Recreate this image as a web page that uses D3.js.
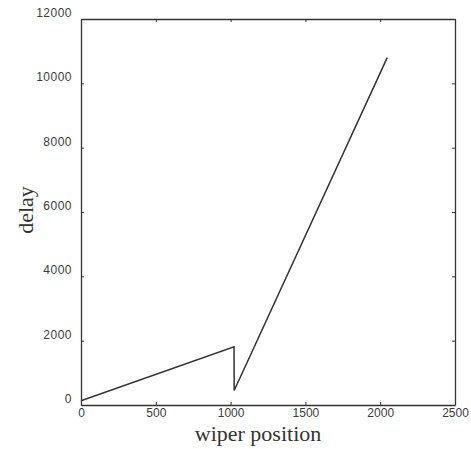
<!DOCTYPE html>
<html>
<head>
    <script src="https://cdnjs.cloudflare.com/ajax/libs/d3/7.8.5/d3.min.js"></script>
    <style>
        body { margin: 0; background: #fff; }
        .tick text {
            font-family: Arial, "Liberation Sans", sans-serif;
            font-size: 12px;
            fill: #3c3c3c;
        }
        .axis-title {
            font-family: "Liberation Serif", "Times New Roman", serif;
            font-size: 22px;
            fill: #333;
        }
    </style>
</head>
<body>
    <div id="chart"></div>
    <script>
        const width = 471, height = 449;
        const margin = { top: 19, right: 16, bottom: 44, left: 81 };

        // wiper position vs delay
        const wiperPos = [0, 1023, 1024, 2047];
        const delay = [130, 1810, 450, 10800];

        const xTicks = [0, 500, 1000, 1500, 2000, 2500];
        const yTicks = [0, 2000, 4000, 6000, 8000, 10000, 12000];

        const svg = d3.select("#chart").append("svg")
            .attr("width", width).attr("height", height);

        const x = d3.scaleLinear().domain([0, 2500]).range([margin.left, width - margin.right]);
        const y = d3.scaleLinear().domain([0, 12000]).range([height - margin.bottom, margin.top]);

        const ink = "#333";
        const fmt = d3.format("d");

        // axes, ticks pointing inward, mirrored on top and right
        const gx = svg.append("g")
            .attr("transform", `translate(0,${y(0)})`)
            .call(d3.axisBottom(x).tickValues(xTicks).tickFormat(fmt).tickSizeInner(-3).tickSizeOuter(0).tickPadding(3));
        svg.append("g")
            .attr("transform", `translate(0,${y(12000)})`)
            .call(d3.axisTop(x).tickValues(xTicks).tickSizeInner(-3).tickSizeOuter(0).tickFormat(""));
        const gy = svg.append("g")
            .attr("transform", `translate(${x(0)},0)`)
            .call(d3.axisLeft(y).tickValues(yTicks).tickFormat(fmt).tickSizeInner(-3).tickSizeOuter(0).tickPadding(9));
        svg.append("g")
            .attr("transform", `translate(${x(2500)},0)`)
            .call(d3.axisRight(y).tickValues(yTicks).tickSizeInner(-3).tickSizeOuter(0).tickFormat(""));

        svg.selectAll(".domain").attr("stroke", ink).attr("stroke-width", 1.3);
        svg.selectAll(".tick line").attr("stroke", ink).attr("stroke-width", 1);
        gy.selectAll(".tick text").attr("dy", -2.5).attr("letter-spacing", "0.5px");

        const line = d3.line()
            .x((d, i) => x(wiperPos[i]))
            .y(d => y(d));

        svg.append("path")
            .datum(delay)
            .attr("fill", "none")
            .attr("stroke", ink)
            .attr("stroke-width", 1.5)
            .attr("d", line);

        svg.append("text")
            .attr("class", "axis-title")
            .attr("x", 258).attr("y", 441)
            .attr("text-anchor", "middle")
            .text("wiper position");

        svg.append("text")
            .attr("class", "axis-title")
            .attr("transform", "translate(33,210) rotate(-90)")
            .attr("text-anchor", "middle")
            .text("delay");
    </script>
</body>
</html>
